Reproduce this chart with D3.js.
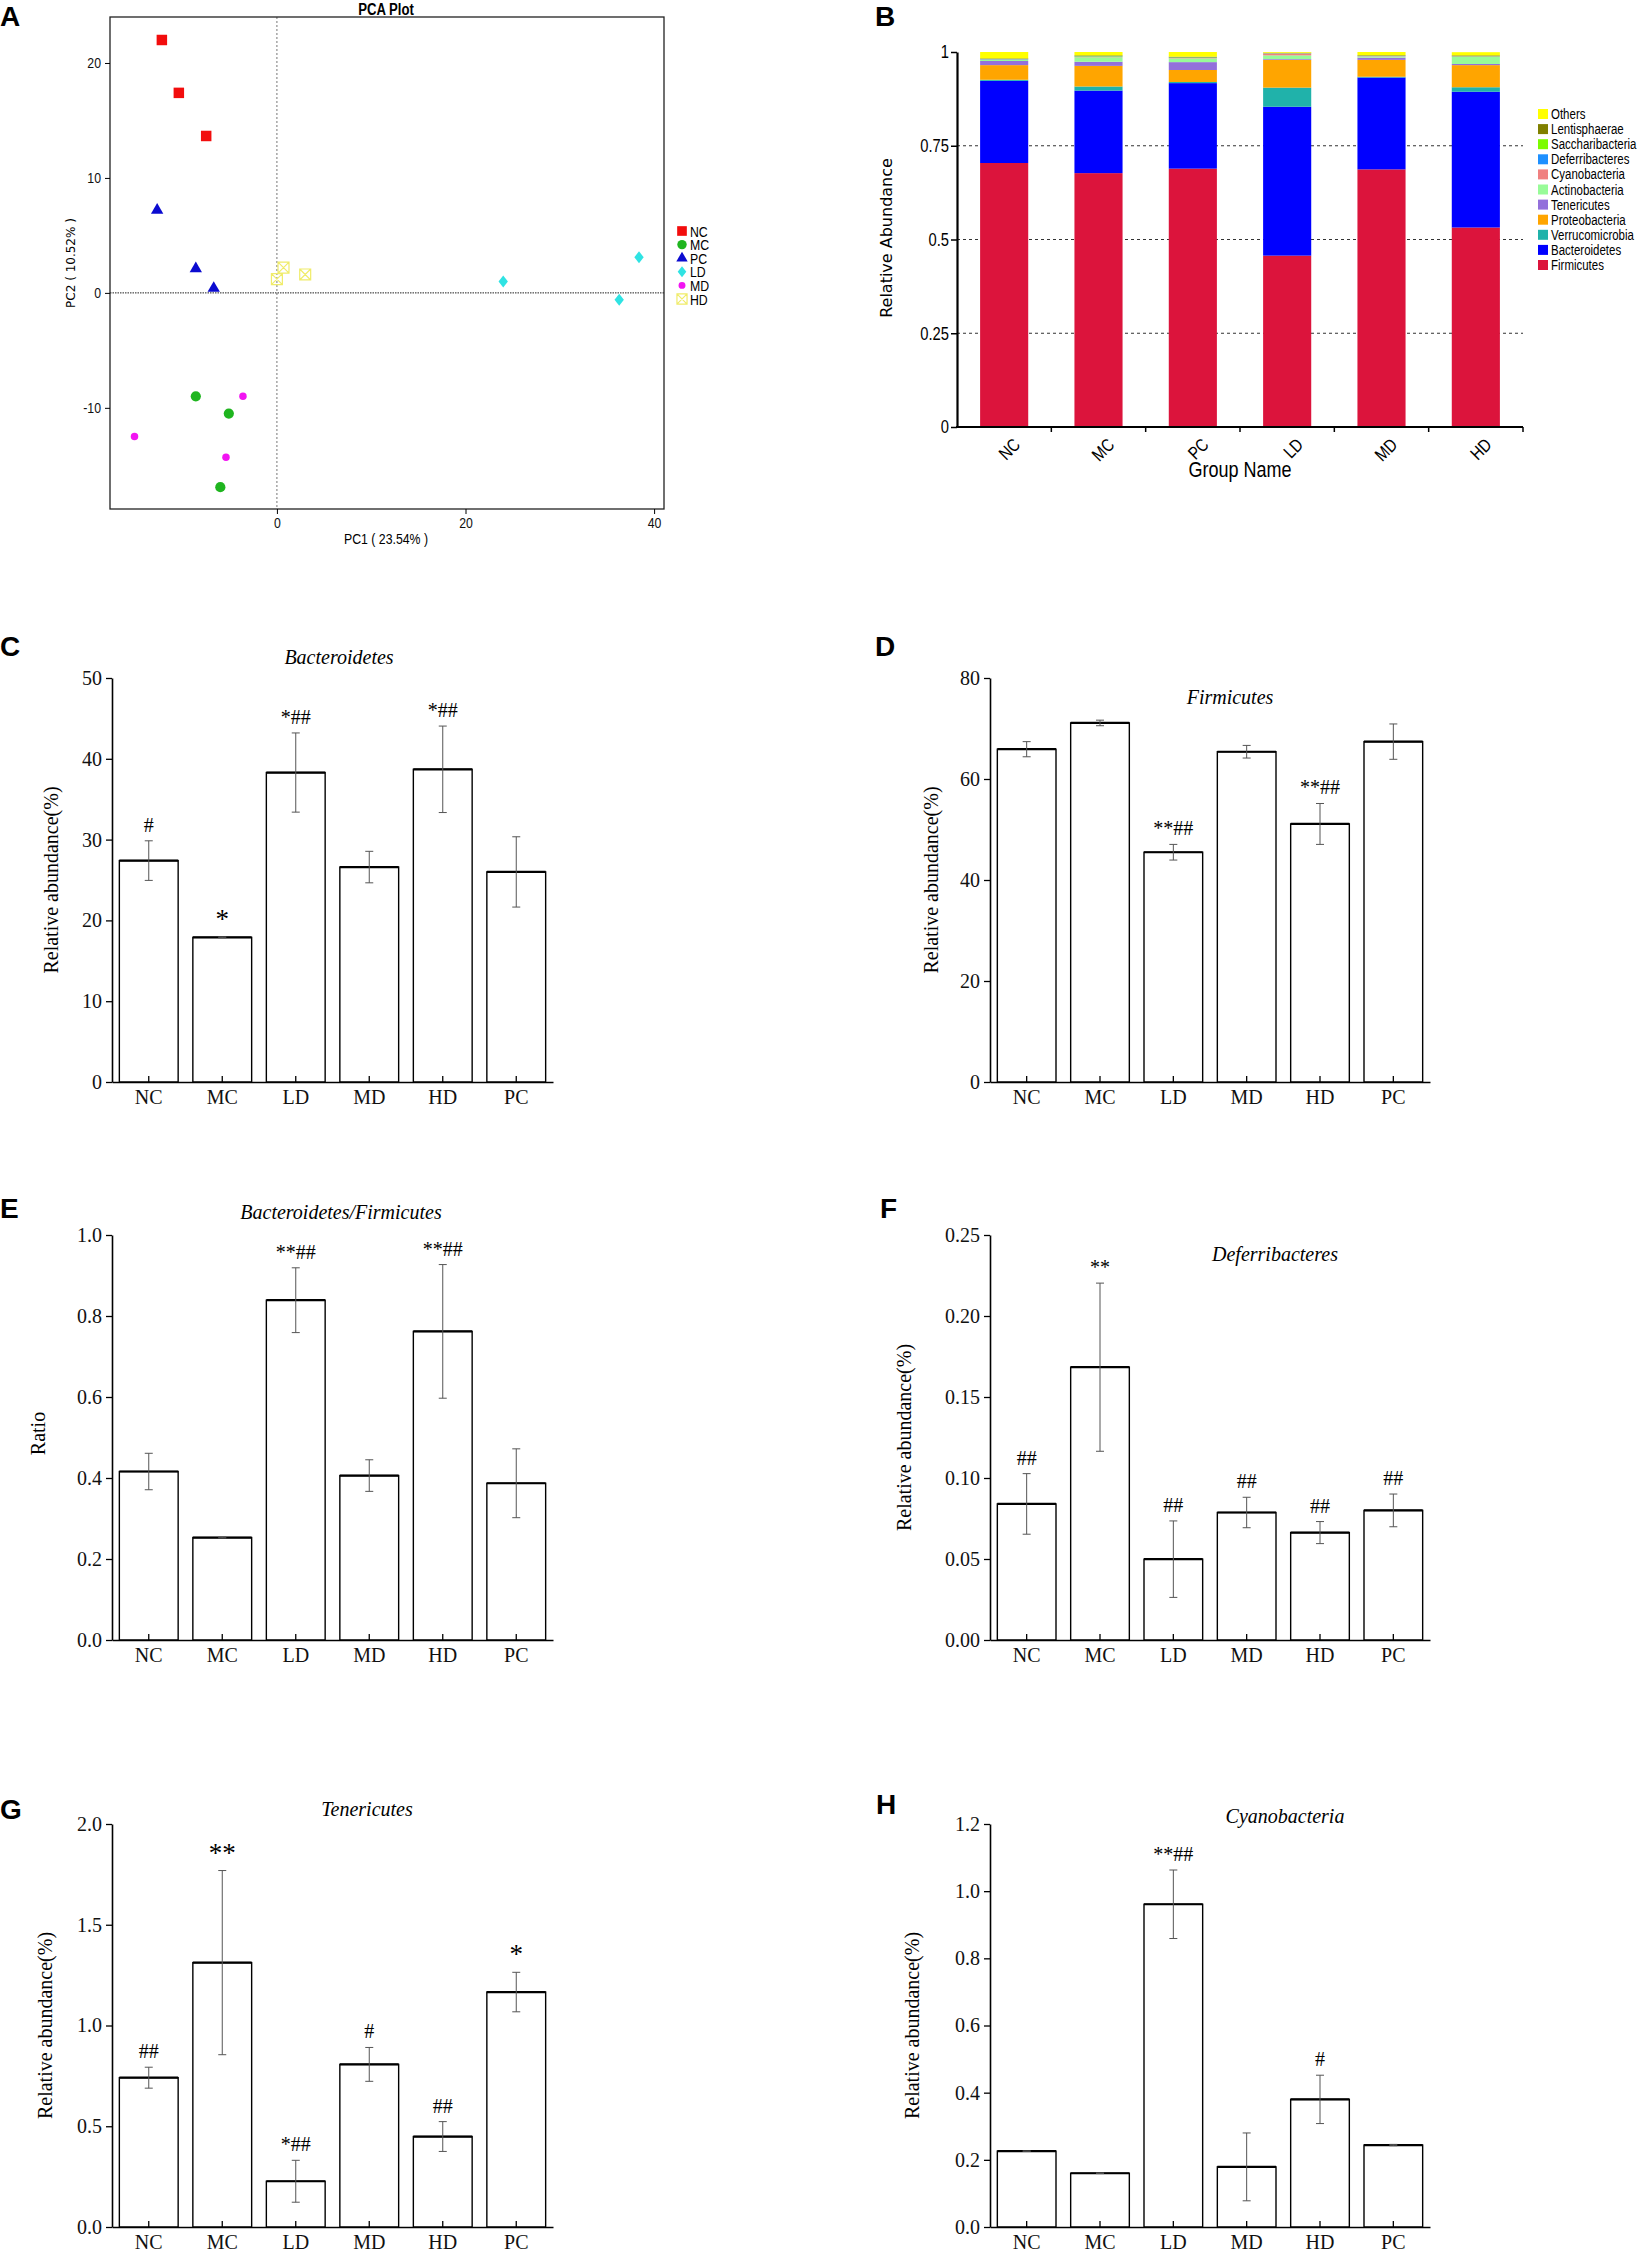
<!DOCTYPE html>
<html>
<head>
<meta charset="utf-8">
<script src="https://cdn.jsdelivr.net/npm/d3@7"></script>
<style>
  body { margin: 0; background: #fff; }
</style>
</head>
<body>
<script>
// ---------- data ----------
// PCA scores (PC1, PC2) per group
const pcaGroups = ["NC", "MC", "PC", "LD", "MD", "HD"];
const pcaX = {
    NC: [-12.2, -10.4, -7.5],
    MC: [-8.6, -5.1, -6.0],
    PC: [-12.7, -8.6, -6.7],
    LD: [24.0, 38.4, 36.3],
    MD: [-3.6, -15.1, -5.4],
    HD: [0.0, 0.7, 3.0]
};
const pcaY = {
    NC: [22.0, 17.4, 13.65],
    MC: [-9.0, -10.5, -16.9],
    PC: [7.2, 2.1, 0.4],
    LD: [1.0, 3.1, -0.6],
    MD: [-9.0, -12.5, -14.3],
    HD: [1.2, 2.2, 1.6]
};
const pcaXTicks = [0, 20, 40];
const pcaYTicks = [-10, 0, 10, 20];

// relative abundance at phylum level, groups NC MC PC LD MD HD
const stackGroups = ["NC", "MC", "PC", "LD", "MD", "HD"];
const phyla = ["Firmicutes", "Bacteroidetes", "Verrucomicrobia", "Proteobacteria", "Tenericutes",
    "Actinobacteria", "Cyanobacteria", "Deferribacteres", "Saccharibacteria", "Lentisphaerae", "Others"];
const firmicutes       = [0.704, 0.677, 0.689, 0.457, 0.687, 0.532];
const bacteroidetes    = [0.219, 0.220, 0.228, 0.397, 0.245, 0.362];
const verrucomicrobia  = [0.003, 0.011, 0.003, 0.051, 0.002, 0.012];
const proteobacteria   = [0.039, 0.055, 0.032, 0.074, 0.045, 0.059];
const tenericutes      = [0.011, 0.011, 0.021, 0.002, 0.006, 0.003];
const actinobacteria   = [0.003, 0.012, 0.010, 0.010, 0.003, 0.019];
const cyanobacteria    = [0.001, 0.001, 0.001, 0.005, 0.001, 0.001];
const deferribacteres  = [0.001, 0.001, 0.001, 0.0005, 0.0005, 0.0005];
const saccharibacteria = [0.0005, 0.001, 0.0005, 0.0005, 0.0005, 0.0005];
const lentisphaerae    = [0.0015, 0.002, 0.002, 0.001, 0.0015, 0.002];
const others           = [0.017, 0.009, 0.0125, 0.002, 0.0085, 0.0085];
const stackTicks = [0, 0.25, 0.5, 0.75, 1];

// bar panels, groups NC MC LD MD HD PC
const barGroups = ["NC", "MC", "LD", "MD", "HD", "PC"];
const bactMean = [27.4, 17.9, 38.3, 26.6, 38.7, 26.0];
const bactErr  = [2.45, 0.05, 4.9, 1.95, 5.35, 4.35];
const bactSig  = ["#", "*", "*##", "", "*##", ""];
const firmMean = [65.9, 71.1, 45.5, 65.4, 51.1, 67.4];
const firmErr  = [1.5, 0.55, 1.55, 1.25, 4.05, 3.5];
const firmSig  = ["", "", "**##", "", "**##", ""];
const ratioMean = [0.416, 0.253, 0.839, 0.406, 0.762, 0.387];
const ratioErr  = [0.045, 0.001, 0.080, 0.039, 0.165, 0.085];
const ratioSig  = ["", "", "**##", "", "**##", ""];
const deferMean = [0.0840, 0.1684, 0.0499, 0.0787, 0.0663, 0.0800];
const deferErr  = [0.0187, 0.0519, 0.0236, 0.0094, 0.0068, 0.0101];
const deferSig  = ["##", "**", "##", "##", "##", "##"];
const tenerMean = [0.741, 1.312, 0.227, 0.807, 0.449, 1.166];
const tenerErr  = [0.052, 0.457, 0.104, 0.084, 0.074, 0.098];
const tenerSig  = ["##", "**", "*##", "#", "##", "*"];
const cyanoMean = [0.226, 0.160, 0.961, 0.179, 0.380, 0.244];
const cyanoErr  = [0.0, 0.001, 0.102, 0.101, 0.072, 0.002];
const cyanoSig  = ["", "", "**##", "", "#", ""];

// ---------- setup ----------
const W = 1650, H = 2255;
const sans = "'Liberation Sans', Arial, sans-serif";
const serif = "'Liberation Serif', 'Times New Roman', serif";
const squeeze = 0.82; // narrow look of the original sans labels
const svg = d3.select("body").append("svg")
    .attr("width", W)
    .attr("height", H)
    .style("background", "#fff");

// condensed sans text at (x, y)
function narrowText(parent, x, y, size, txt, anchor, extra) {
    return parent.append("text")
        .attr("transform", `translate(${x},${y})${extra || ""} scale(${squeeze},1)`)
        .attr("text-anchor", anchor || "start")
        .attr("font-family", sans)
        .attr("font-size", size + "px")
        .text(txt);
}

function panelLetter(txt, x, y) {
    svg.append("text")
        .attr("x", x).attr("y", y)
        .attr("font-family", sans)
        .attr("font-weight", "bold")
        .attr("font-size", "28px")
        .text(txt);
}

// ---------- A: PCA ----------
function drawPCA() {
    const x = d3.scaleLinear().domain([-17.7, 41.05]).range([110, 664]);
    const y = d3.scaleLinear().domain([-18.8, 24.0]).range([509, 17]);
    const g = svg.append("g");

    // reference lines at zero
    g.append("line")
        .attr("x1", x(0)).attr("x2", x(0)).attr("y1", y.range()[1]).attr("y2", y.range()[0])
        .attr("stroke", "#777").attr("stroke-dasharray", "2,2");
    g.append("line")
        .attr("x1", x.range()[0]).attr("x2", x.range()[1]).attr("y1", y(0)).attr("y2", y(0))
        .attr("stroke", "#222").attr("stroke-dasharray", "1.5,1");

    g.append("rect")
        .attr("x", x.range()[0]).attr("y", y.range()[1])
        .attr("width", x.range()[1] - x.range()[0]).attr("height", y.range()[0] - y.range()[1])
        .attr("fill", "none").attr("stroke", "#222").attr("stroke-width", 1.3);

    const xa = g.append("g").attr("transform", `translate(0,${y.range()[0]})`)
        .call(d3.axisBottom(x).tickValues(pcaXTicks).tickSize(5).tickSizeOuter(0).tickFormat(d => String(d)));
    const ya = g.append("g").attr("transform", `translate(${x.range()[0]},0)`)
        .call(d3.axisLeft(y).tickValues(pcaYTicks).tickSize(5).tickSizeOuter(0).tickFormat(d => String(d)));
    xa.select(".domain").remove();
    ya.select(".domain").remove();
    xa.selectAll("text").attr("font-family", sans).attr("font-size", "15px").attr("fill", "#111")
        .attr("transform", `scale(${squeeze},1)`);
    ya.selectAll("text").attr("font-family", sans).attr("font-size", "15px").attr("fill", "#111")
        .attr("x", -9 / squeeze).attr("transform", `scale(${squeeze},1)`);

    narrowText(svg, 386, 15, 16, "PCA Plot", "middle").attr("font-weight", "bold");
    narrowText(svg, 386, 544, 15, "PC1 ( 23.54% )", "middle");
    svg.append("text")
        .attr("transform", "translate(75,263) rotate(-90)")
        .attr("text-anchor", "middle")
        .attr("font-family", "'DejaVu Sans', sans-serif").attr("font-size", "12px")
        .text("PC2 ( 10.52% )");

    // custom marker shapes
    const tallDiamond = {
        draw(ctx, size) {
            const h = Math.sqrt(size) * 0.75, w = h * 0.78;
            ctx.moveTo(0, -h); ctx.lineTo(w, 0); ctx.lineTo(0, h); ctx.lineTo(-w, 0); ctx.closePath();
        }
    };
    const crossBox = {
        draw(ctx, size) {
            const s = Math.sqrt(size) / 2;
            ctx.moveTo(-s, -s); ctx.lineTo(s, -s); ctx.lineTo(s, s); ctx.lineTo(-s, s); ctx.closePath();
            ctx.moveTo(-s, -s); ctx.lineTo(s, s);
            ctx.moveTo(s, -s); ctx.lineTo(-s, s);
        }
    };
    const style = {
        NC: { type: d3.symbolSquare, size: 110, fill: "#f20d0d", stroke: "none" },
        MC: { type: d3.symbolCircle, size: 82, fill: "#1fb51f", stroke: "none" },
        PC: { type: d3.symbolTriangle, size: 66, fill: "#0b0bd0", stroke: "none" },
        LD: { type: tallDiamond, size: 64, fill: "#2fe3e3", stroke: "none" },
        MD: { type: d3.symbolCircle, size: 44, fill: "#f214f2", stroke: "none" },
        HD: { type: crossBox, size: 120, fill: "none", stroke: "#f0ec6a" }
    };

    pcaGroups.forEach(k => {
        const s = style[k];
        const pts = pcaX[k].map((v, i) => [v, pcaY[k][i]]);
        g.selectAll(".pt-" + k).data(pts).enter().append("path")
            .attr("transform", d => `translate(${x(d[0])},${y(d[1])})`)
            .attr("d", d3.symbol().type(s.type).size(s.size))
            .attr("fill", s.fill)
            .attr("stroke", s.stroke)
            .attr("stroke-width", 1.2);
    });

    // legend
    const leg = svg.append("g").attr("transform", "translate(682,231)");
    pcaGroups.forEach((k, i) => {
        const s = style[k];
        const row = leg.append("g").attr("transform", `translate(0,${i * 13.6})`);
        row.append("path")
            .attr("d", d3.symbol().type(s.type).size(s.size * 0.85))
            .attr("fill", s.fill).attr("stroke", s.stroke).attr("stroke-width", 1.2);
        narrowText(row, 8, 5.5, 15, k);
    });
}

// ---------- B: stacked bars ----------
function drawStack() {
    const colors = {
        Firmicutes: "#dc143c", Bacteroidetes: "#0000ff", Verrucomicrobia: "#20b2aa",
        Proteobacteria: "#ffa500", Tenericutes: "#9370db", Actinobacteria: "#98fb98",
        Cyanobacteria: "#f08080", Deferribacteres: "#1e90ff", Saccharibacteria: "#7cfc00",
        Lentisphaerae: "#808000", Others: "#ffff00"
    };
    const series = [firmicutes, bacteroidetes, verrucomicrobia, proteobacteria, tenericutes,
        actinobacteria, cyanobacteria, deferribacteres, saccharibacteria, lentisphaerae, others];
    const rows = stackGroups.map((grp, i) => {
        const r = { group: grp };
        phyla.forEach((p, j) => { r[p] = series[j][i]; });
        return r;
    });

    const x = d3.scaleBand().domain(stackGroups).range([957, 1523]).paddingInner(0.49).paddingOuter(0.245);
    const y = d3.scaleLinear().domain([0, 1]).range([427, 52]);
    const g = svg.append("g");

    // dashed grid
    g.selectAll(".grid").data([0.25, 0.5, 0.75]).enter().append("line")
        .attr("x1", x.range()[0]).attr("x2", x.range()[1])
        .attr("y1", d => y(d)).attr("y2", d => y(d))
        .attr("stroke", "#333").attr("stroke-dasharray", "3,3").attr("stroke-width", 1);

    const stacked = d3.stack().keys(phyla)(rows);
    g.selectAll(".layer").data(stacked).enter().append("g")
        .attr("fill", d => colors[d.key])
        .selectAll("rect").data(d => d).enter().append("rect")
        .attr("x", d => x(d.data.group))
        .attr("width", x.bandwidth())
        .attr("y", d => y(d[1]))
        .attr("height", d => y(d[0]) - y(d[1]));

    // axes
    const ya = g.append("g").attr("transform", `translate(${x.range()[0]},0)`)
        .call(d3.axisLeft(y).tickValues(stackTicks).tickSize(6).tickSizeOuter(0).tickFormat(d => String(d)));
    ya.select(".domain").attr("stroke-width", 2.2);
    ya.selectAll(".tick line").attr("stroke-width", 1.5);
    ya.selectAll("text").attr("font-family", sans).attr("font-size", "18px")
        .attr("x", -8 / squeeze).attr("transform", `scale(${squeeze},1)`);

    g.append("line")
        .attr("x1", x.range()[0] - 1).attr("x2", x.range()[1])
        .attr("y1", y(0)).attr("y2", y(0))
        .attr("stroke", "#000").attr("stroke-width", 2.2);
    const bounds = stackGroups.map(d => x(d) + x.bandwidth() + x.step() * x.paddingInner() / 2);
    g.selectAll(".xtick").data(bounds).enter().append("line")
        .attr("x1", d => d).attr("x2", d => d)
        .attr("y1", y(0)).attr("y2", y(0) + 5)
        .attr("stroke", "#000").attr("stroke-width", 1.5);
    stackGroups.forEach(d => {
        narrowText(g, x(d) + x.bandwidth() / 2 + 8, y(0) + 10, 18, d, "end", " rotate(-45)")
            .attr("dy", "0.71em");
    });

    narrowText(svg, 1240, 477, 22, "Group Name", "middle");
    svg.append("text")
        .attr("transform", "translate(892,238) rotate(-90)")
        .attr("text-anchor", "middle")
        .attr("font-family", "'DejaVu Sans', sans-serif").attr("font-size", "16px")
        .text("Relative Abundance");

    // legend, top to bottom
    const legendKeys = phyla.slice().reverse();
    const leg = svg.append("g").attr("transform", "translate(1538,109)");
    legendKeys.forEach((k, i) => {
        const row = leg.append("g").attr("transform", `translate(0,${i * 15.1})`);
        row.append("rect").attr("width", 10).attr("height", 10).attr("fill", colors[k]);
        narrowText(row, 13, 10, 14, k);
    });
}

// ---------- C-H: bar charts with error bars ----------
function drawBars(p) {
    const x = d3.scaleBand().domain(barGroups).range([p.x0, p.x1]).paddingInner(0.2).paddingOuter(0.1);
    const y = d3.scaleLinear().domain([0, p.max]).range([p.y0, p.y1]);
    const g = svg.append("g");
    const rows = barGroups.map((k, i) => ({ k, m: p.mean[i], e: p.err[i], s: p.sig[i] }));

    g.selectAll(".bar").data(rows).enter().append("rect")
        .attr("x", d => x(d.k))
        .attr("width", x.bandwidth())
        .attr("y", d => y(d.m))
        .attr("height", d => y(0) - y(d.m))
        .attr("fill", "#fff").attr("stroke", "#000").attr("stroke-width", 1.4);
    g.selectAll(".bartop").data(rows).enter().append("line")
        .attr("x1", d => x(d.k)).attr("x2", d => x(d.k) + x.bandwidth())
        .attr("y1", d => y(d.m)).attr("y2", d => y(d.m))
        .attr("stroke", "#000").attr("stroke-width", 2.2);

    // error bars
    const cx = d => x(d.k) + x.bandwidth() / 2;
    const eb = g.selectAll(".err").data(rows).enter().append("g")
        .attr("stroke", "#555").attr("stroke-width", 1);
    eb.append("line").attr("x1", cx).attr("x2", cx)
        .attr("y1", d => y(d.m - d.e)).attr("y2", d => y(d.m + d.e));
    eb.append("line").attr("x1", d => cx(d) - 4).attr("x2", d => cx(d) + 4)
        .attr("y1", d => y(d.m + d.e)).attr("y2", d => y(d.m + d.e));
    eb.append("line").attr("x1", d => cx(d) - 4).attr("x2", d => cx(d) + 4)
        .attr("y1", d => y(d.m - d.e)).attr("y2", d => y(d.m - d.e));

    // significance marks
    g.selectAll(".sig").data(rows.filter(d => d.s)).enter().append("text")
        .attr("x", cx)
        .attr("y", d => y(d.m + d.e) - 9)
        .attr("text-anchor", "middle")
        .attr("font-family", serif)
        .attr("font-size", d => (p.bigStar && d.s.indexOf("#") < 0) ? "27px" : "20px")
        .text(d => d.s);

    // axes
    const ya = g.append("g").attr("transform", `translate(${p.x0},0)`)
        .call(d3.axisLeft(y).tickValues(p.ticks).tickSize(6).tickSizeOuter(0).tickPadding(4).tickFormat(p.fmt));
    const xa = g.append("g").attr("transform", `translate(0,${p.y0})`)
        .call(d3.axisBottom(x).tickSize(-6).tickSizeOuter(0).tickPadding(8));
    [ya, xa].forEach(a => {
        a.select(".domain").attr("stroke-width", 1.6);
        a.selectAll(".tick line").attr("stroke-width", 1.3);
        a.selectAll("text").attr("font-family", serif).attr("font-size", "20px").attr("fill", "#111");
    });

    svg.append("text")
        .attr("x", p.titleX).attr("y", p.titleY)
        .attr("text-anchor", "middle")
        .attr("font-family", serif).attr("font-style", "italic").attr("font-size", "20px")
        .text(p.title);
    svg.append("text")
        .attr("transform", `translate(${p.labelX},${(p.y0 + p.y1) / 2 + p.labelDy}) rotate(-90)`)
        .attr("text-anchor", "middle")
        .attr("dy", "0.35em")
        .attr("font-family", serif).attr("font-size", "20px")
        .text(p.label);
}

drawPCA();
drawStack();

const L = { x0: 112, x1: 553 }, R = { x0: 990, x1: 1430 };
const row1 = { y0: 1082, y1: 678 }, row2 = { y0: 1640, y1: 1235 }, row3 = { y0: 2227, y1: 1824 };
const f0 = d3.format("d"), f1 = d3.format(".1f"), f2 = d3.format(".2f");

drawBars({ ...L, ...row1, max: 50, ticks: [0, 10, 20, 30, 40, 50], fmt: f0,
    mean: bactMean, err: bactErr, sig: bactSig, bigStar: true,
    title: "Bacteroidetes", titleX: 339, titleY: 664,
    label: "Relative abundance(%)", labelX: 51, labelDy: 0 });
drawBars({ ...R, ...row1, max: 80, ticks: [0, 20, 40, 60, 80], fmt: f0,
    mean: firmMean, err: firmErr, sig: firmSig,
    title: "Firmicutes", titleX: 1230, titleY: 704,
    label: "Relative abundance(%)", labelX: 931, labelDy: 0 });
drawBars({ ...L, ...row2, max: 1.0, ticks: [0, 0.2, 0.4, 0.6, 0.8, 1.0], fmt: f1,
    mean: ratioMean, err: ratioErr, sig: ratioSig,
    title: "Bacteroidetes/Firmicutes", titleX: 341, titleY: 1219,
    label: "Ratio", labelX: 38, labelDy: -4 });
drawBars({ ...R, ...row2, max: 0.25, ticks: [0, 0.05, 0.10, 0.15, 0.20, 0.25], fmt: f2,
    mean: deferMean, err: deferErr, sig: deferSig,
    title: "Deferribacteres", titleX: 1275, titleY: 1261,
    label: "Relative abundance(%)", labelX: 904, labelDy: 0 });
drawBars({ ...L, ...row3, max: 2.0, ticks: [0, 0.5, 1.0, 1.5, 2.0], fmt: f1,
    mean: tenerMean, err: tenerErr, sig: tenerSig, bigStar: true,
    title: "Tenericutes", titleX: 367, titleY: 1816,
    label: "Relative abundance(%)", labelX: 45, labelDy: 0 });
drawBars({ ...R, ...row3, max: 1.2, ticks: [0, 0.2, 0.4, 0.6, 0.8, 1.0, 1.2], fmt: f1,
    mean: cyanoMean, err: cyanoErr, sig: cyanoSig,
    title: "Cyanobacteria", titleX: 1285, titleY: 1823,
    label: "Relative abundance(%)", labelX: 912, labelDy: 0 });

panelLetter("A", 0, 26);
panelLetter("B", 875, 26);
panelLetter("C", 0, 656);
panelLetter("D", 875, 656);
panelLetter("E", 0, 1218);
panelLetter("F", 880, 1218);
panelLetter("G", 0, 1819);
panelLetter("H", 876, 1814);
</script>
</body>
</html>
